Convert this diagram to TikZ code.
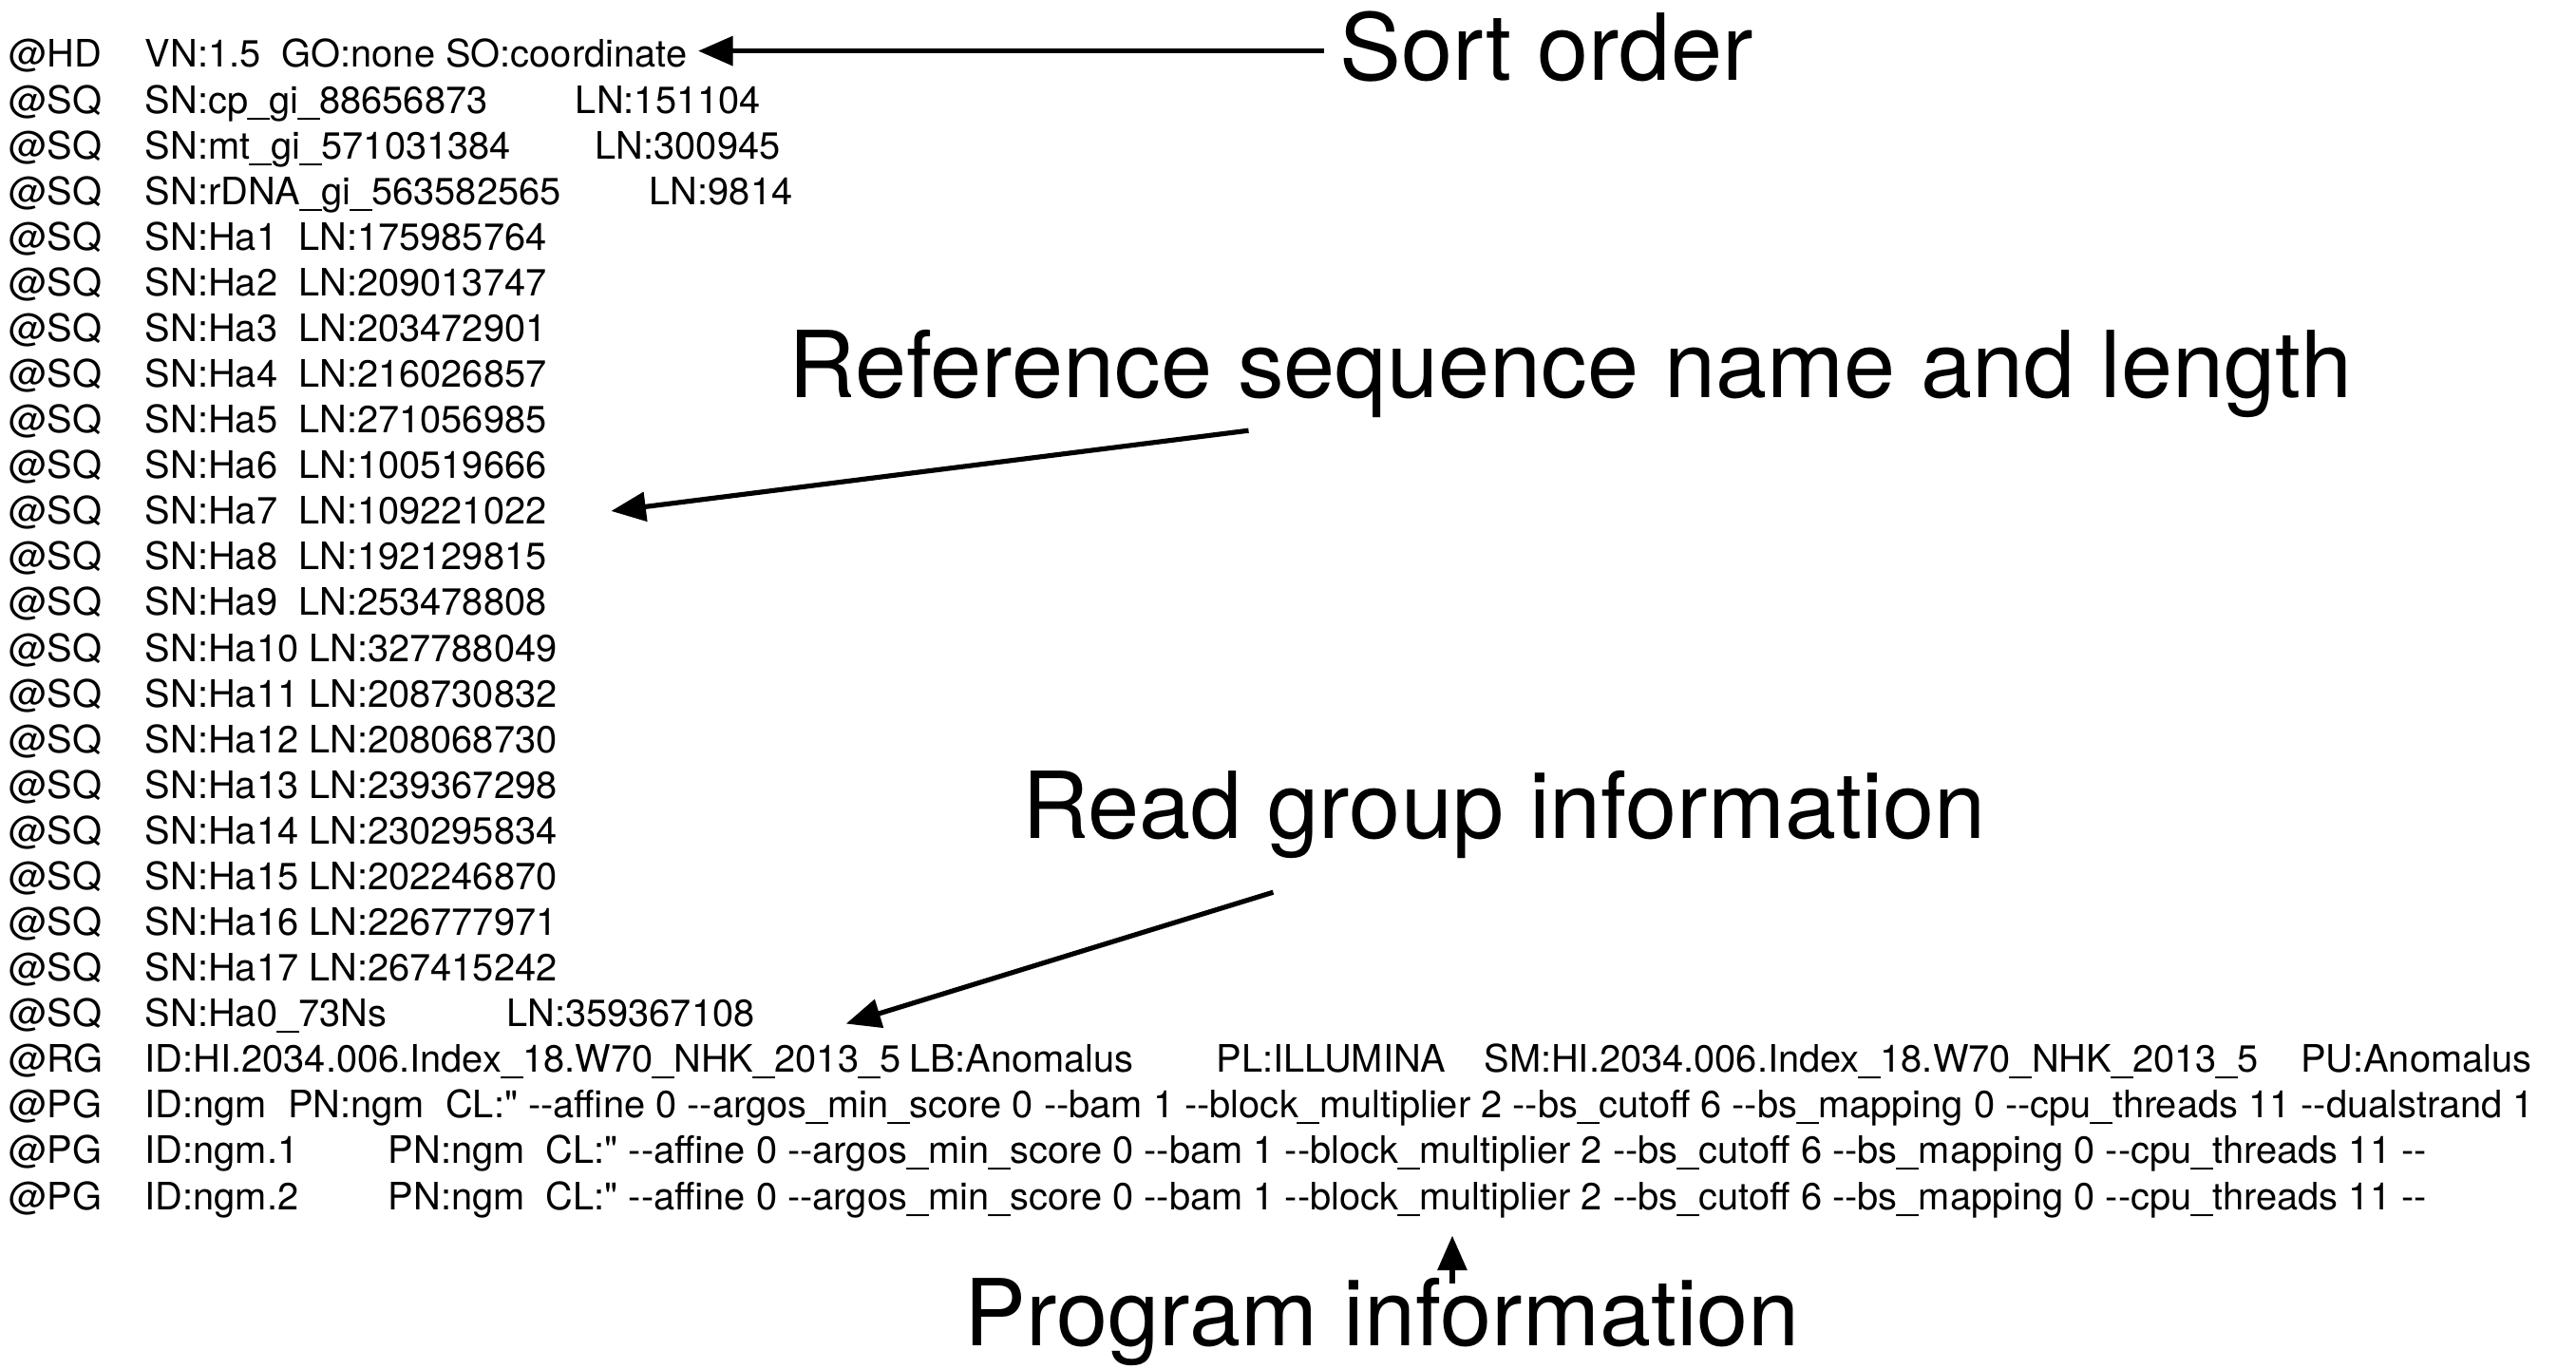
\documentclass[tikz,border=0pt]{standalone}
\usepackage{fontspec}
\setmainfont{TeX Gyre Heros}[Ligatures=TeXOff]
\usetikzlibrary{arrows.meta}
\begin{document}
\begin{tikzpicture}[x=0.02cm,y=-0.02cm,
  sam/.style={anchor=base west,inner sep=0pt,font=\fontsize{13.1}{15}\selectfont},
  note/.style={anchor=base west,inner sep=0pt,font=\fontsize{32}{36}\selectfont},
  pointer/.style={line width=1.7pt,-{Triangle[length=12pt,width=10pt]}}]
\useasboundingbox (0,0) rectangle (1568,833);
\def\rowy#1{33+27.8*#1+8}
% tags
\node[sam] (t0) at (5,{\rowy{0}}) {@HD};
\foreach \i in {1,...,21}{\node[sam] (t\i) at (5,{\rowy{\i}}) {@SQ};}
\node[sam] (t22) at (5,{\rowy{22}}) {@RG};
\foreach \i in {23,24,25}{\node[sam] (t\i) at (5,{\rowy{\i}}) {@PG};}
% header
\node[sam] (hd) at (88,{\rowy{0}}) {VN:1.5\ \ GO:none SO:coordinate};
\node[sam] (sq1) at (88,{\rowy{1}}) {SN:cp\_gi\_88656873};
\node[sam] (ln1) at (350,{\rowy{1}}) {LN:151104};
\node[sam] (sq2) at (88,{\rowy{2}}) {SN:mt\_gi\_571031384};
\node[sam] (ln2) at (362,{\rowy{2}}) {LN:300945};
\node[sam] (sq3) at (88,{\rowy{3}}) {SN:rDNA\_gi\_563582565};
\node[sam] (ln3) at (395,{\rowy{3}}) {LN:9814};
\node[sam] (sq4) at (88,{\rowy{4}}) {SN:Ha1\ \ LN:175985764};
\node[sam] (sq5) at (88,{\rowy{5}}) {SN:Ha2\ \ LN:209013747};
\node[sam] (sq6) at (88,{\rowy{6}}) {SN:Ha3\ \ LN:203472901};
\node[sam] (sq7) at (88,{\rowy{7}}) {SN:Ha4\ \ LN:216026857};
\node[sam] (sq8) at (88,{\rowy{8}}) {SN:Ha5\ \ LN:271056985};
\node[sam] (sq9) at (88,{\rowy{9}}) {SN:Ha6\ \ LN:100519666};
\node[sam] (sq10) at (88,{\rowy{10}}) {SN:Ha7\ \ LN:109221022};
\node[sam] (sq11) at (88,{\rowy{11}}) {SN:Ha8\ \ LN:192129815};
\node[sam] (sq12) at (88,{\rowy{12}}) {SN:Ha9\ \ LN:253478808};
\node[sam] (sq13) at (88,{\rowy{13}}) {SN:Ha10 LN:327788049};
\node[sam] (sq14) at (88,{\rowy{14}}) {SN:Ha11 LN:208730832};
\node[sam] (sq15) at (88,{\rowy{15}}) {SN:Ha12 LN:208068730};
\node[sam] (sq16) at (88,{\rowy{16}}) {SN:Ha13 LN:239367298};
\node[sam] (sq17) at (88,{\rowy{17}}) {SN:Ha14 LN:230295834};
\node[sam] (sq18) at (88,{\rowy{18}}) {SN:Ha15 LN:202246870};
\node[sam] (sq19) at (88,{\rowy{19}}) {SN:Ha16 LN:226777971};
\node[sam] (sq20) at (88,{\rowy{20}}) {SN:Ha17 LN:267415242};
\node[sam] (sq21) at (88,{\rowy{21}}) {SN:Ha0\_73Ns};
\node[sam] (ln21) at (308,{\rowy{21}}) {LN:359367108};
% read group
\node[sam] (rgid) at (88,{\rowy{22}}) {ID:HI.2034.006.Index\_18.W70\_NHK\_2013\_5};
\node[sam] (rglb) at (553,{\rowy{22}}) {LB:Anomalus};
\node[sam] (rgpl) at (740,{\rowy{22}}) {PL:ILLUMINA};
\node[sam] (rgsm) at (903,{\rowy{22}}) {SM:HI.2034.006.Index\_18.W70\_NHK\_2013\_5};
\node[sam] (rgpu) at (1400,{\rowy{22}}) {PU:Anomalus};
% programs
\node[sam] (pg1) at (88,{\rowy{23}}) {ID:ngm\ \ PN:ngm\ \ CL:" -\kern0pt-affine 0 -\kern0pt-argos\_min\_score 0 -\kern0pt-bam 1 -\kern0pt-block\_multiplier 2 -\kern0pt-bs\_cutoff 6 -\kern0pt-bs\_mapping 0 -\kern0pt-cpu\_threads 11 -\kern0pt-dualstrand 1};
\node[sam] (pg2id) at (88,{\rowy{24}}) {ID:ngm.1};
\node[sam] (pg2) at (236,{\rowy{24}}) {PN:ngm\ \ CL:" -\kern0pt-affine 0 -\kern0pt-argos\_min\_score 0 -\kern0pt-bam 1 -\kern0pt-block\_multiplier 2 -\kern0pt-bs\_cutoff 6 -\kern0pt-bs\_mapping 0 -\kern0pt-cpu\_threads 11 -\kern0pt-};
\node[sam] (pg3id) at (88,{\rowy{25}}) {ID:ngm.2};
\node[sam] (pg3) at (236,{\rowy{25}}) {PN:ngm\ \ CL:" -\kern0pt-affine 0 -\kern0pt-argos\_min\_score 0 -\kern0pt-bam 1 -\kern0pt-block\_multiplier 2 -\kern0pt-bs\_cutoff 6 -\kern0pt-bs\_mapping 0 -\kern0pt-cpu\_threads 11 -\kern0pt-};
% annotations
\node[note] (sort) at (815,49) {Sort order};
\node[note] (refseq) at (480,242) {Reference sequence name and length};
\node[note] (rginfo) at (622,510) {Read group information};
\node[note] (pginfo) at (587,819) {Program information};
\coordinate (sortS) at (806,31);
\coordinate (sortE) at (425,31);
\coordinate (refS) at (760,262);
\coordinate (refE) at (372,311);
\coordinate (rgS) at (775,543);
\coordinate (rgE) at (515,623);
\coordinate (pgS) at (884,781);
\coordinate (pgE) at (884,752);
\draw[pointer] (sortS) -- (sortE);
\draw[pointer] (refS) -- (refE);
\draw[pointer] (rgS) -- (rgE);
\draw[pointer] (pgS) -- (pgE);
\end{tikzpicture}
\end{document}
